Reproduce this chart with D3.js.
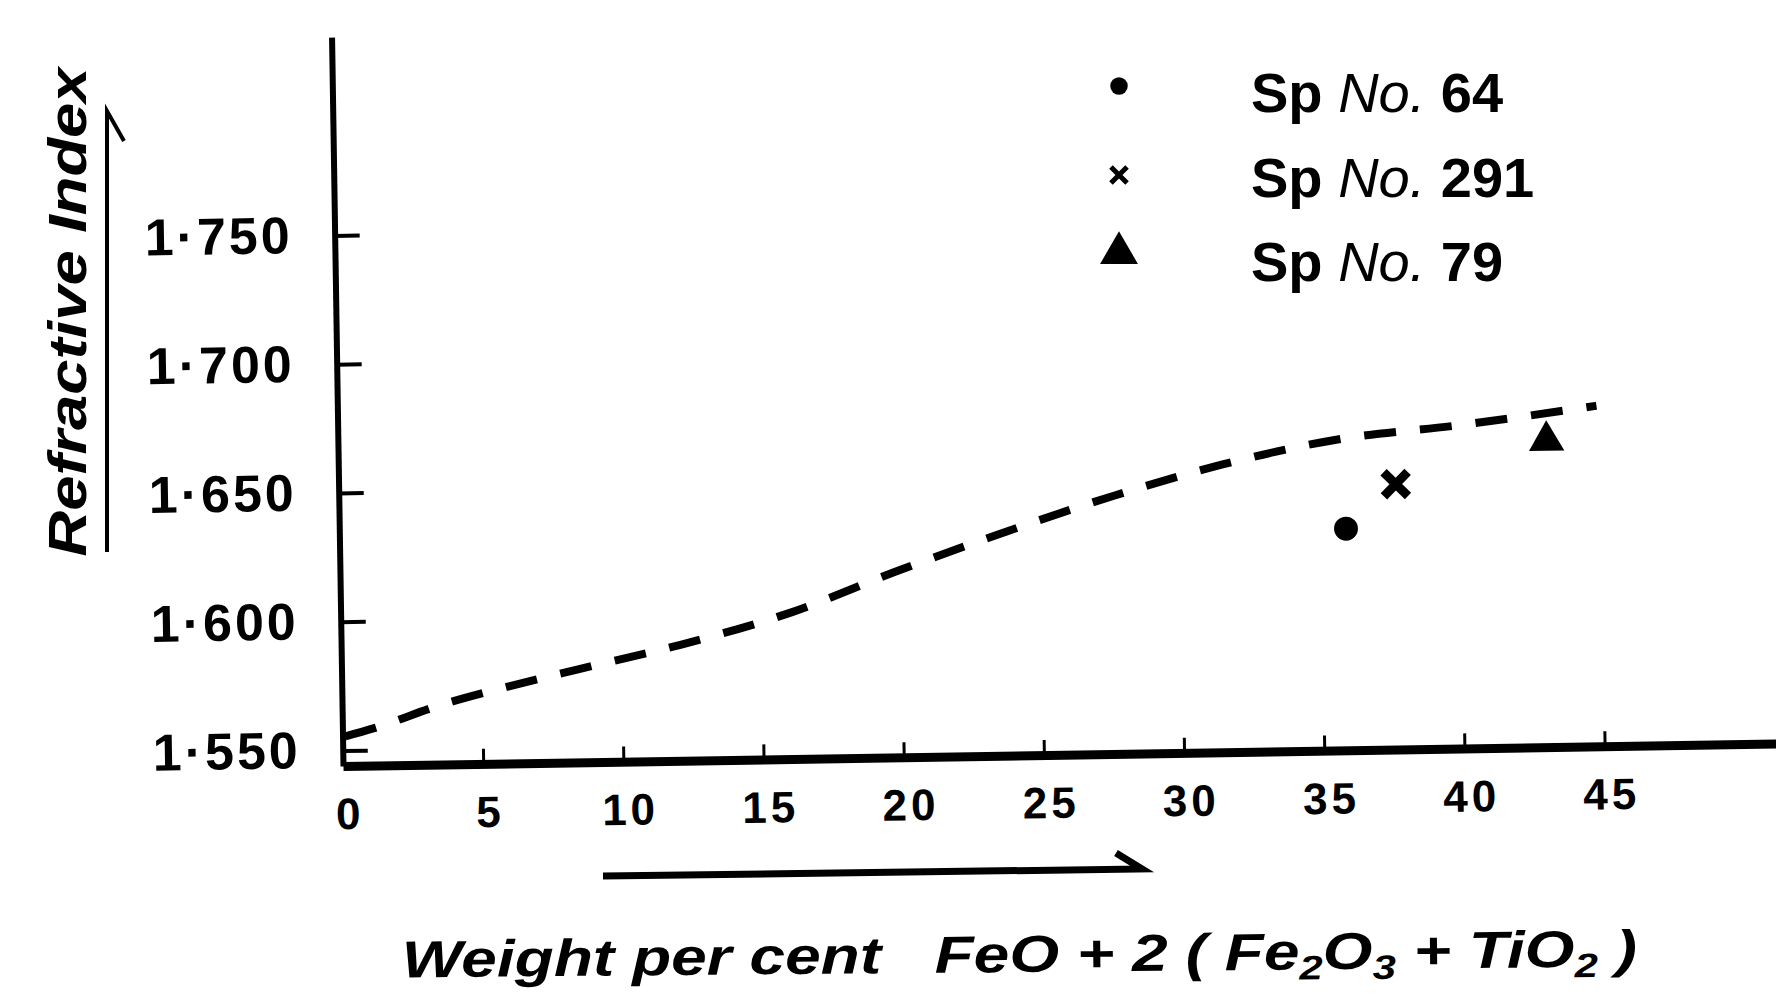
<!DOCTYPE html>
<html>
<head>
<meta charset="utf-8">
<script src="https://cdn.jsdelivr.net/npm/d3@7"></script>
<style>
  body { margin: 0; background: #fff; }
  svg { display: block; }
</style>
</head>
<body>
<div id="chart"></div>
<script>
// dashed trend curve
const curveX = [0.1, 1.1, 3.5, 6.0, 8.4, 12.1, 16.1, 19.8, 23.8, 27.7, 31.5, 35.6, 40.1, 44.9];
const curveY = [1.5555, 1.5584, 1.567, 1.574, 1.580, 1.589, 1.601, 1.616, 1.631, 1.6444, 1.6556, 1.6646, 1.6696, 1.6762];

// measured specimens
const sampleNames = ["64", "291", "79"];
const sampleX = [35.9, 37.7, 43.1];
const sampleY = [1.630, 1.647, 1.663];
const sampleShapes = ["circle", "x", "triangle"];

const xTicks = [0, 5, 10, 15, 20, 25, 30, 35, 40, 45];
const yTicks = [1.55, 1.60, 1.65, 1.70, 1.75];

const width = 1776, height = 997;
const svg = d3.select("#chart")
  .append("svg")
  .attr("width", width)
  .attr("height", height);

const x = d3.scaleLinear().domain([0, 51.5]).range([343, 1787]);
const y = d3.scaleLinear().domain([1.544, 1.827]).range([766, 37]);

// the scanned figure is tilted a little, so the plot is rotated about the origin
const plot = svg.append("g")
  .attr("transform", `rotate(-0.9, ${x(0)}, ${y(1.544)})`);

const yAxis = plot.append("g")
  .attr("transform", `translate(${x(0)},0)`)
  .call(d3.axisLeft(y)
    .tickValues(yTicks)
    .tickSizeInner(-25)
    .tickSizeOuter(0)
    .tickPadding(42)
    .tickFormat(d => d3.format(".3f")(d).replace(".", "·")));
yAxis.select(".domain").attr("stroke", "#000").attr("stroke-width", 6);
yAxis.selectAll(".tick line").attr("stroke", "#000").attr("stroke-width", 4);
yAxis.selectAll(".tick text")
  .attr("fill", "#000")
  .attr("font-family", "Liberation Sans")
  .attr("font-weight", "bold")
  .attr("font-size", 52)
  .attr("letter-spacing", 3);

const xAxis = plot.append("g")
  .attr("transform", `translate(0,${y(1.544)})`)
  .call(d3.axisBottom(x)
    .tickValues(xTicks)
    .tickSizeInner(-15)
    .tickSizeOuter(0)
    .tickPadding(32));
xAxis.select(".domain").attr("stroke", "#000").attr("stroke-width", 9);
xAxis.selectAll(".tick line").attr("stroke", "#000").attr("stroke-width", 3);
xAxis.selectAll(".tick text")
  .attr("fill", "#000")
  .attr("dx", 6)
  .attr("font-family", "Liberation Sans")
  .attr("font-weight", "bold")
  .attr("font-size", 44)
  .attr("letter-spacing", 4);

const line = d3.line()
  .x(d => x(d[0]))
  .y(d => y(d[1]))
  .curve(d3.curveMonotoneX);

plot.append("path")
  .datum(d3.zip(curveX, curveY))
  .attr("d", line)
  .attr("fill", "none")
  .attr("stroke", "#000")
  .attr("stroke-width", 8)
  .attr("stroke-dasharray", "32 24");

const symbolTypes = { circle: d3.symbolCircle, x: d3.symbolX, triangle: d3.symbolTriangle };
const plotSizes = { circle: 450, x: 380, triangle: 540 };
const legendSizes = { circle: 240, x: 170, triangle: 620 };

function drawMarker(g, shape, size, strokeW) {
  const p = g.append("path").attr("d", d3.symbol().type(symbolTypes[shape]).size(size)());
  if (shape === "x") p.attr("fill", "none").attr("stroke", "#000").attr("stroke-width", strokeW);
  else p.attr("fill", "#000");
}

sampleShapes.forEach((s, i) => {
  const g = plot.append("g").attr("transform", `translate(${x(sampleX[i])},${y(sampleY[i])})`);
  drawMarker(g, s, plotSizes[s], 9);
});

// legend
const legendY = [86, 175, 253];
const legendBase = [112, 197, 281];
sampleShapes.forEach((s, i) => {
  const g = svg.append("g").attr("transform", `translate(1119,${legendY[i]})`);
  drawMarker(g, s, legendSizes[s], 5);
  const t = svg.append("text")
    .attr("x", 1251)
    .attr("y", legendBase[i])
    .attr("font-family", "Liberation Sans")
    .attr("font-size", 56)
    .attr("fill", "#000");
  t.append("tspan").attr("font-weight", "bold").text("Sp ");
  t.append("tspan").attr("font-style", "italic").text("No. ");
  t.append("tspan").attr("font-weight", "bold").text(sampleNames[i]);
});

// y axis title with arrow
svg.append("text")
  .attr("transform", "translate(86,312) rotate(-90)")
  .attr("text-anchor", "middle")
  .attr("font-family", "Liberation Sans")
  .attr("font-style", "italic")
  .attr("font-weight", "bold")
  .attr("font-size", 54)
  .attr("textLength", 489)
  .attr("lengthAdjust", "spacingAndGlyphs")
  .attr("fill", "#000")
  .text("Refractive Index");

svg.append("path")
  .attr("d", "M107,552V111L124,141")
  .attr("fill", "none")
  .attr("stroke", "#000")
  .attr("stroke-width", 4);

// x axis title with arrow
svg.append("path")
  .attr("d", "M603,876L1142,869L1116,853")
  .attr("fill", "none")
  .attr("stroke", "#000")
  .attr("stroke-width", 7);

const xt = svg.append("text")
  .attr("transform", "rotate(-0.5, 1019, 970)")
  .attr("x", 402)
  .attr("y", 972)
  .attr("font-family", "Liberation Sans")
  .attr("font-style", "italic")
  .attr("font-weight", "bold")
  .attr("font-size", 52)
  .attr("textLength", 1235)
  .attr("lengthAdjust", "spacingAndGlyphs")
  .attr("fill", "#000")
  .style("white-space", "pre");
xt.append("tspan").text("Weight per cent   FeO + 2 ( Fe");
xt.append("tspan").attr("font-size", 34).attr("dy", 10).text("2");
xt.append("tspan").attr("dy", -10).text("O");
xt.append("tspan").attr("font-size", 34).attr("dy", 10).text("3");
xt.append("tspan").attr("dy", -10).text(" + TiO");
xt.append("tspan").attr("font-size", 34).attr("dy", 10).text("2");
xt.append("tspan").attr("dy", -10).text(" )");
</script>
</body>
</html>
